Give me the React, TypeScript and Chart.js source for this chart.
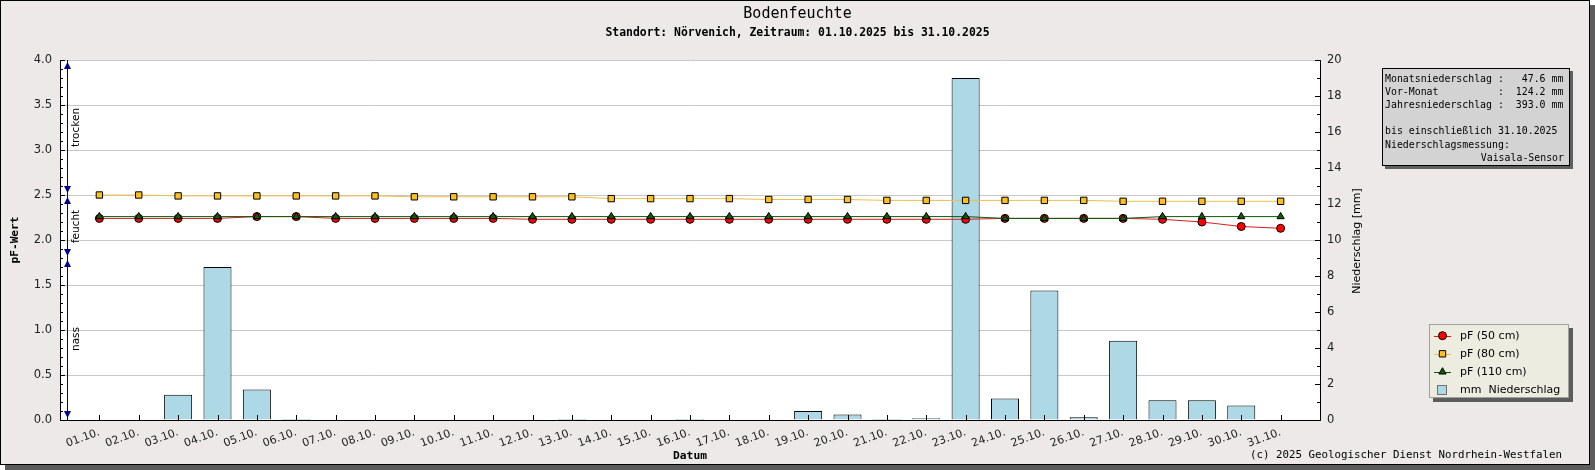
import React, { useEffect, useRef } from 'react'
import { Chart, registerables, type ChartConfiguration, type Plugin } from 'chart.js'
import { drawPoint } from 'chart.js/helpers'

Chart.register(...registerables)

// --- data (Oktober 2025, Nörvenich) ---
const DATES = [
  '01.10.', '02.10.', '03.10.', '04.10.', '05.10.', '06.10.', '07.10.', '08.10.', '09.10.', '10.10.',
  '11.10.', '12.10.', '13.10.', '14.10.', '15.10.', '16.10.', '17.10.', '18.10.', '19.10.', '20.10.',
  '21.10.', '22.10.', '23.10.', '24.10.', '25.10.', '26.10.', '27.10.', '28.10.', '29.10.', '30.10.', '31.10.',
]
const PF_50 = [
  2.24, 2.24, 2.24, 2.24, 2.26, 2.26, 2.24, 2.24, 2.24, 2.24,
  2.24, 2.23, 2.23, 2.23, 2.23, 2.23, 2.23, 2.23, 2.23, 2.23,
  2.23, 2.23, 2.23, 2.24, 2.24, 2.24, 2.24, 2.23, 2.20, 2.15, 2.13,
]
const PF_80 = [
  2.50, 2.50, 2.49, 2.49, 2.49, 2.49, 2.49, 2.49, 2.48, 2.48,
  2.48, 2.48, 2.48, 2.46, 2.46, 2.46, 2.46, 2.45, 2.45, 2.45,
  2.44, 2.44, 2.44, 2.44, 2.44, 2.44, 2.43, 2.43, 2.43, 2.43, 2.43,
]
const PF_110 = [
  2.26, 2.26, 2.26, 2.26, 2.26, 2.26, 2.26, 2.26, 2.26, 2.26,
  2.26, 2.26, 2.26, 2.26, 2.26, 2.26, 2.26, 2.26, 2.26, 2.26,
  2.26, 2.26, 2.26, 2.24, 2.24, 2.24, 2.24, 2.26, 2.26, 2.26, 2.26,
]
const PRECIP_MM = [
  0, 0, 1.4, 8.5, 1.7, 0.05, 0, 0, 0, 0,
  0, 0, 0.05, 0, 0, 0.05, 0, 0, 0.5, 0.3,
  0.05, 0.1, 19.0, 1.2, 7.2, 0.15, 4.4, 1.1, 1.1, 0.8, 0,
]

const ZONES = [
  { label: 'trocken', from: 2.5, to: 4.0 },
  { label: 'feucht', from: 1.8, to: 2.5 },
  { label: 'nass', from: 0, to: 1.8 },
]

const TITLE = 'Bodenfeuchte'
const SUBTITLE = 'Standort: Nörvenich, Zeitraum: 01.10.2025 bis 31.10.2025'
const INFO_LINES = [
  'Monatsniederschlag :   47.6 mm',
  'Vor-Monat          :  124.2 mm',
  'Jahresniederschlag :  393.0 mm',
  '',
  'bis einschließlich 31.10.2025',
  'Niederschlagsmessung:',
]
const INFO_RIGHT = 'Vaisala-Sensor'
const COPYRIGHT = '(c) 2025 Geologischer Dienst Nordrhein-Westfalen'

const SANS = "'DejaVu Sans', sans-serif"
const MONO = "'DejaVu Sans Mono', monospace"
const BG = '#ece9e8'

const xy = (vals: number[]) => vals.map((v, i) => ({ x: i + 1, y: v }))

const line = (ctx: CanvasRenderingContext2D, x1: number, y1: number, x2: number, y2: number) => {
  ctx.beginPath()
  ctx.moveTo(x1, y1)
  ctx.lineTo(x2, y2)
  ctx.stroke()
}

const tri = (ctx: CanvasRenderingContext2D, x: number, tipY: number, dir: 1 | -1) => {
  // dir -1: points up, 1: points down
  ctx.beginPath()
  ctx.moveTo(x, tipY)
  ctx.lineTo(x - 3.5, tipY - dir * 7)
  ctx.lineTo(x + 3.5, tipY - dir * 7)
  ctx.closePath()
  ctx.fill()
}

const backdrop: Plugin = {
  id: 'backdrop',
  beforeDraw(chart) {
    const { ctx, width, height, chartArea: a } = chart
    ctx.save()
    ctx.fillStyle = '#5c5c5c'
    ctx.fillRect(5, 5, width - 5, height - 5)
    ctx.fillStyle = BG
    ctx.fillRect(0, 0, width - 5, height - 5)
    ctx.strokeStyle = '#000'
    ctx.lineWidth = 1
    ctx.strokeRect(0.5, 0.5, width - 6, height - 6)
    ctx.fillStyle = '#fff'
    ctx.fillRect(a.left, a.top, a.right - a.left, a.bottom - a.top)

    ctx.fillStyle = '#000'
    ctx.textAlign = 'center'
    ctx.textBaseline = 'middle'
    ctx.font = `15px ${MONO}`
    ctx.fillText(TITLE, width / 2, 14.5)
    ctx.font = `bold 11.4px ${MONO}`
    ctx.fillText(SUBTITLE, width / 2, 33.5)

    ctx.textAlign = 'right'
    ctx.font = `10.8px ${MONO}`
    ctx.fillText(COPYRIGHT, 1562, 455)
    ctx.restore()
  },
}

const overlay: Plugin = {
  id: 'overlay',
  afterDatasetsDraw(chart) {
    const { ctx, chartArea: a, scales } = chart
    const { x, y, y1 } = scales
    ctx.save()
    ctx.strokeStyle = '#000'
    ctx.lineWidth = 1

    // inward tick marks
    for (let i = 0; i <= 40; i++) {
      const py = Math.round(y.getPixelForValue(i / 10)) + 0.5
      line(ctx, a.left, py, a.left + (i % 5 === 0 ? 5 : 3), py)
    }
    for (let i = 0; i <= 20; i++) {
      const py = Math.round(y1.getPixelForValue(i)) + 0.5
      line(ctx, a.right - (i % 2 === 0 ? 5 : 3), py, a.right, py)
    }
    DATES.forEach((_, i) => {
      const px = Math.round(x.getPixelForValue(i + 1)) + 0.5
      line(ctx, px, a.bottom, px, a.bottom - 5)
    })

    // moisture zones
    const zx = a.left + 7.5
    ctx.strokeStyle = '#00007a'
    line(ctx, zx, y.getPixelForValue(4), zx, y.getPixelForValue(0))
    ctx.fillStyle = '#00008b'
    ZONES.forEach(z => {
      const top = y.getPixelForValue(z.to) + 2
      const bot = y.getPixelForValue(z.from) - 2
      tri(ctx, zx, top, -1)
      tri(ctx, zx, bot, 1)
    })
    ctx.fillStyle = '#000'
    ctx.font = `10.5px ${SANS}`
    ctx.textAlign = 'center'
    ctx.textBaseline = 'middle'
    ZONES.forEach(z => {
      const mid = (y.getPixelForValue(z.from) + y.getPixelForValue(z.to)) / 2
      ctx.save()
      ctx.translate(a.left + 16.5, mid)
      ctx.rotate(-Math.PI / 2)
      ctx.fillText(z.label, 0, 0)
      ctx.restore()
    })

    // right axis title
    ctx.save()
    ctx.font = `11px ${SANS}`
    ctx.translate(1357, (a.top + a.bottom) / 2 + 1)
    ctx.rotate(-Math.PI / 2)
    ctx.fillText('Niederschlag [mm]', 0, 0)
    ctx.restore()

    // info box
    const ib = { l: 1382, t: 68, r: 1570, b: 166 }
    ctx.fillStyle = '#606060'
    ctx.fillRect(ib.l + 3, ib.t + 3, ib.r - ib.l, ib.b - ib.t)
    ctx.fillStyle = '#d3d3d3'
    ctx.fillRect(ib.l, ib.t, ib.r - ib.l, ib.b - ib.t)
    ctx.strokeStyle = '#000'
    ctx.strokeRect(ib.l + 0.5, ib.t + 0.5, ib.r - ib.l - 1, ib.b - ib.t - 1)
    ctx.fillStyle = '#000'
    ctx.font = `9.9px ${MONO}`
    ctx.textAlign = 'left'
    INFO_LINES.forEach((t, i) => ctx.fillText(t, 1385, 79 + i * 13.2))
    ctx.textAlign = 'right'
    ctx.fillText(INFO_RIGHT, 1564, 79 + INFO_LINES.length * 13.2)

    // legend
    const lb = { l: 1429, t: 324, r: 1569, b: 398 }
    ctx.fillStyle = '#5c5c5c'
    ctx.fillRect(lb.l + 4, lb.t + 4, lb.r - lb.l, lb.b - lb.t)
    ctx.fillStyle = '#ecece1'
    ctx.fillRect(lb.l, lb.t, lb.r - lb.l, lb.b - lb.t)
    ctx.strokeStyle = '#a0a0a0'
    ctx.strokeRect(lb.l + 0.5, lb.t + 0.5, lb.r - lb.l - 1, lb.b - lb.t - 1)
    ctx.font = `11px ${SANS}`
    ctx.textAlign = 'left'
    chart.data.datasets.forEach((ds: any, i) => {
      const ly = lb.t + 11.7 + i * 18.1
      const mx = 1442.5
      if (ds.type === 'bar') {
        ctx.fillStyle = ds.backgroundColor
        ctx.fillRect(1437, ly - 5, 10, 10)
        ctx.strokeStyle = '#707070'
        ctx.strokeRect(1437.5, ly - 4.5, 9, 9)
      } else {
        ctx.strokeStyle = ds.borderColor
        ctx.lineWidth = 1
        line(ctx, 1434, Math.round(ly) + 0.5, 1451, Math.round(ly) + 0.5)
        ctx.fillStyle = ds.pointBackgroundColor
        ctx.strokeStyle = '#000'
        drawPoint(ctx, { pointStyle: ds.pointStyle, rotation: 0, radius: ds.pointRadius, borderWidth: 1 }, mx, ly)
      }
      ctx.fillStyle = '#000'
      ctx.fillText(ds.label, 1460, ly + 0.5)
    })
    ctx.restore()
  },
}

export default function App() {
  const canvasRef = useRef<HTMLCanvasElement>(null)
  const chartRef = useRef<Chart | null>(null)

  useEffect(() => {
    document.body.style.margin = '0'
    if (!canvasRef.current) return
    chartRef.current?.destroy()

    const tickFont = { family: SANS, size: 11.5 }
    const cfg: ChartConfiguration = {
      type: 'bar',
      data: {
        datasets: [
          {
            type: 'line',
            label: 'pF (50 cm)',
            data: xy(PF_50),
            yAxisID: 'y',
            borderColor: '#d42020',
            borderWidth: 1,
            pointStyle: 'circle',
            pointRadius: 4,
            pointBackgroundColor: '#ff0000',
            pointBorderColor: '#000',
            pointBorderWidth: 1,
            tension: 0,
            order: 1,
          } as any,
          {
            type: 'line',
            label: 'pF (80 cm)',
            data: xy(PF_80),
            yAxisID: 'y',
            borderColor: '#ecc04a',
            borderWidth: 1,
            pointStyle: 'rect',
            pointRadius: 4.5,
            pointBackgroundColor: '#ffbf1f',
            pointBorderColor: '#000',
            pointBorderWidth: 1,
            tension: 0,
            order: 2,
          } as any,
          {
            type: 'line',
            label: 'pF (110 cm)',
            data: xy(PF_110),
            yAxisID: 'y',
            borderColor: '#0a5a0a',
            borderWidth: 1,
            pointStyle: 'triangle',
            pointRadius: 4.2,
            pointBackgroundColor: '#0b5d0b',
            pointBorderColor: '#000',
            pointBorderWidth: 1,
            tension: 0,
            order: 0,
          } as any,
          {
            type: 'bar',
            label: 'mm  Niederschlag',
            data: PRECIP_MM.map((v, i) => ({ x: i + 1, y: v > 0 ? v : null })),
            yAxisID: 'y1',
            backgroundColor: '#add8e6',
            borderColor: '#000',
            borderWidth: 1,
            barPercentage: 0.89,
            categoryPercentage: 0.8,
            order: 3,
          } as any,
        ],
      },
      options: {
        responsive: false,
        devicePixelRatio: 1,
        animation: false,
        layout: { padding: { left: 0, top: 60, right: 235, bottom: 5 } },
        plugins: {
          legend: { display: false },
          title: { display: false },
          tooltip: { enabled: false },
        },
        scales: {
          x: {
            type: 'linear',
            min: 0,
            max: 32,
            offset: false,
            afterBuildTicks: (s: any) => { s.ticks = DATES.map((_, i) => ({ value: i + 1 })) },
            afterFit: (s: any) => { s.height = 45 },
            ticks: {
              autoSkip: false,
              minRotation: 20,
              maxRotation: 20,
              padding: 6,
              color: '#222',
              font: { family: SANS, size: 11 },
              callback: (v: any) => DATES[Number(v) - 1] ?? '',
            },
            grid: { display: false, drawTicks: false },
            border: { display: true, color: '#000', width: 1 },
            title: {
              display: true,
              text: 'Datum',
              color: '#000',
              font: { family: MONO, size: 11.3, weight: 'bold' },
              padding: { top: 0, bottom: 2 },
            },
          },
          y: {
            position: 'left',
            min: 0,
            max: 4,
            afterFit: (s: any) => { s.width = 60 },
            ticks: {
              stepSize: 0.5,
              padding: 8,
              color: '#222',
              font: tickFont,
              callback: (v: any) => Number(v).toFixed(1),
            },
            grid: { color: '#c8c8c8', drawTicks: false },
            border: { color: '#000', width: 1 },
            title: {
              display: true,
              text: 'pF-Wert',
              color: '#000',
              font: { family: MONO, size: 11.2, weight: 'bold' },
              padding: { top: 8, bottom: 0 },
            },
          },
          y1: {
            position: 'right',
            min: 0,
            max: 20,
            afterFit: (s: any) => { s.width = 40 },
            ticks: { stepSize: 2, padding: 7, color: '#222', font: tickFont },
            grid: { drawOnChartArea: false, drawTicks: false },
            border: { color: '#000', width: 1 },
          },
        },
      },
      plugins: [backdrop, overlay],
    }
    chartRef.current = new Chart(canvasRef.current, cfg)
    return () => { chartRef.current?.destroy(); chartRef.current = null }
  }, [])

  return (
    <canvas
      ref={canvasRef}
      width={1595}
      height={470}
      style={{ display: 'block', width: 1595, height: 470 }}
    />
  )
}
